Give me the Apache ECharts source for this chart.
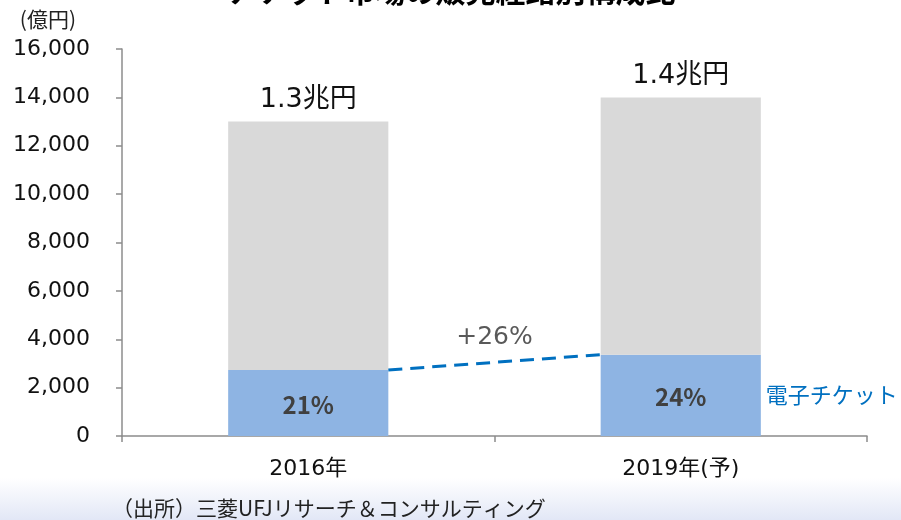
<!DOCTYPE html>
<html>
<head>
<meta charset="utf-8">
<script src="https://cdn.jsdelivr.net/npm/echarts@6/dist/echarts.min.js"></script>
<style>
  html, body { margin: 0; padding: 0; background: #fff; }
  #main { width: 901px; height: 520px; }
</style>
</head>
<body>
<div id="main"></div>
<script>
// data
const categories = ['2016年', '2019年(予)'];
const eticketValues = [2730, 3360];     // 電子チケット
const otherValues = [10270, 10640];     // その他
const totalLabels = ['1.3兆円', '1.4兆円'];
const shareLabels = ['21%', '24%'];
const growthLabel = '+26%';

const FONT = '"DejaVu Sans", "Noto Sans CJK JP", sans-serif';
const JP_FONT = '"Noto Sans CJK JP", sans-serif';

var myChart = echarts.init(document.getElementById('main'));

// 下部の背景グラデーション
const bgGraphic = {
  type: 'rect',
  silent: true,
  z: -10,
  shape: { x: 0, y: 478, width: 901, height: 42 },
  style: {
    fill: new echarts.graphic.LinearGradient(0, 0, 0, 1, [
      { offset: 0, color: 'rgba(255,255,255,1)' },
      { offset: 1, color: '#e2e7f6' }
    ])
  }
};

let option = {
  animation: false,
  textStyle: { fontFamily: FONT },
  title: {
    text: 'チケット市場の販売経路別構成比',
    left: 'center',
    top: -29,
    textStyle: { fontSize: 30, fontWeight: 'bold', color: '#000', fontFamily: JP_FONT }
  },
  grid: {
    left: 122,
    right: 34,
    top: 49,
    bottom: 84
  },
  xAxis: {
    type: 'category',
    data: categories,
    axisLine: { lineStyle: { color: '#8c8c8c', width: 1.5 } },
    axisTick: { show: true, length: 6, lineStyle: { color: '#8c8c8c', width: 1.5 } },
    axisLabel: { color: '#111', fontSize: 22, margin: 22, fontFamily: FONT }
  },
  yAxis: {
    type: 'value',
    min: 0,
    max: 16000,
    interval: 2000,
    name: '(億円)',
    nameLocation: 'end',
    nameGap: 19,
    nameTextStyle: { color: '#222', fontSize: 21, align: 'right', padding: [0, 46, 0, 0], fontFamily: JP_FONT },
    splitLine: { show: false },
    axisLine: { show: true, lineStyle: { color: '#8c8c8c', width: 1.5 } },
    axisTick: { show: true, length: 6, lineStyle: { color: '#8c8c8c', width: 1.5 } },
    axisLabel: {
      color: '#111',
      fontSize: 22,
      margin: 32,
      fontFamily: FONT,
      formatter: v => v.toLocaleString('en-US')
    }
  },
  series: [
    {
      name: '電子チケット',
      type: 'bar',
      stack: 'total',
      barWidth: '43%',
      data: eticketValues,
      itemStyle: { color: '#8eb4e3' },
      label: {
        show: true,
        position: 'inside',
        formatter: p => shareLabels[p.dataIndex],
        color: '#404040',
        fontSize: 24,
        fontWeight: 'bold',
        fontFamily: JP_FONT,
        offset: [0, 2]
      }
    },
    {
      name: 'その他',
      type: 'bar',
      stack: 'total',
      data: otherValues,
      itemStyle: { color: '#d9d9d9' },
      label: {
        show: true,
        position: 'top',
        distance: 8,
        formatter: p => totalLabels[p.dataIndex],
        color: '#111',
        fontSize: 27,
        fontFamily: FONT
      }
    }
  ],
  graphic: [bgGraphic]
};
myChart.setOption(option);

// 破線と注記はスケールから位置を計算
function addAnnotations() {
  const p0 = myChart.convertToPixel({ seriesIndex: 0 }, [0, eticketValues[0]]);
  const p1 = myChart.convertToPixel({ seriesIndex: 0 }, [1, eticketValues[1]]);
  const bandW = p1[0] - p0[0];
  const halfBar = bandW * 0.43 / 2;
  const x0 = p0[0] + halfBar, x1 = p1[0] - halfBar;
  const labelPos = myChart.convertToPixel({ seriesIndex: 0 }, [1, 1700]);

  myChart.setOption({
    graphic: [
      bgGraphic,
      {
        type: 'line',
        shape: { x1: x0, y1: p0[1], x2: x1, y2: p1[1] },
        style: { stroke: '#0070c0', lineWidth: 3, lineDash: [14, 8] },
        z: 10
      },
      {
        type: 'text',
        x: (x0 + x1) / 2,
        y: (p0[1] + p1[1]) / 2 - 25,
        style: {
          text: growthLabel,
          fill: '#595959',
          font: '25px ' + FONT,
          align: 'center',
          verticalAlign: 'middle'
        },
        z: 10
      },
      {
        type: 'text',
        x: labelPos[0] + halfBar + 5,
        y: labelPos[1],
        style: {
          text: '電子チケット',
          fill: '#0070c0',
          font: '22px ' + JP_FONT,
          align: 'left',
          verticalAlign: 'middle'
        },
        z: 10
      },
      {
        type: 'text',
        x: 112,
        y: 508,
        style: {
          text: '（出所）三菱UFJリサーチ＆コンサルティング',
          fill: '#222',
          font: '21px ' + JP_FONT,
          align: 'left',
          verticalAlign: 'middle'
        },
        z: 10
      }
    ]
  });
}
addAnnotations();
</script>
</body>
</html>
